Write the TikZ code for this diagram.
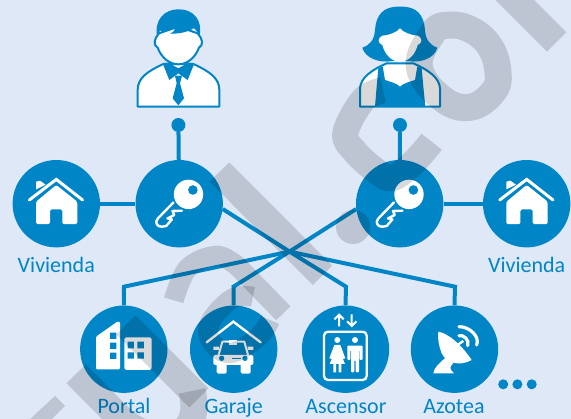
\documentclass[tikz,border=0pt]{standalone}
\usepackage{fontspec}
\setmainfont{Carlito}
\definecolor{bgc}{HTML}{DFE8F7}
\definecolor{azul}{HTML}{0085C7}
\definecolor{wm}{HTML}{D9D9D9}
\tikzset{
  bub/.style={circle,fill=azul,minimum size=87.4pt,inner sep=0pt,draw=none},
  pin/.style={circle,fill=azul,minimum size=14pt,inner sep=0pt,draw=none},
  etq/.style={text=azul,anchor=base,inner sep=0pt,font=\fontsize{22}{22}\selectfont},
  con/.style={draw=azul,line width=4pt,line join=miter},
  w/.style={fill=white,draw=none},
  wl/.style={draw=white,fill=none,line width=2.4pt,line join=round},
  ol/.style={draw=azul,fill=white,line width=2pt,line join=round},
  zz/.style={x=.33333pt,y=-.33333pt},
  wstroke/.style={draw=wm,fill=none,line join=round}
}
\newcommand{\homeIcon}[1]{\begin{scope}[shift={(#1)}]
  \fill[w,rounded corners=1.5pt] (0,-18.7)--(-20.3,-2)--(-20.3,20.5)--(-6.3,20.5)--(-6.3,5.7)--(6,5.7)--(6,20.5)--(21,20.5)--(21,-2)--cycle;
  \fill[w] (-20.3,-14.3)--(-20.3,-22)--(-16.3,-23)--(-10.7,-19)--cycle;
  \draw[draw=white,line width=3pt,line cap=round,line join=miter] (-27,-3.7)--(0,-24.3)--(26.3,-3.7);
\end{scope}}
\newcommand{\keyIcon}[1]{\begin{scope}[shift={(#1)}]
  \fill[w] (9.3,-9.3) circle (14.7);
  \fill[azul] (13.7,-13.7) circle (4.8);
  \draw[wl,line cap=round] (-5.7,-1.3)--(-21.3,14.7) .. controls (-25,18.5) and (-22,23.5) .. (-17.3,23)--(-13,22.3)--(-7.3,15.7)--(-11.7,14.7)--(-5,11.3)--(-6.7,7.3)--(2.7,7);
\end{scope}}
\begin{document}
\begin{tikzpicture}[x=1pt,y=-1pt]
\useasboundingbox (0,0) rectangle (571,419);
\fill[bgc] (0,0) rectangle (571,419);

% nodes
\node[bub] (home1) at (56.3,203.7) {};
\node[bub] (key1) at (179.2,203.7) {};
\node[bub] (key2) at (399.7,203.7) {};
\node[bub] (home2) at (526.7,203.7) {};
\node[bub] (portal) at (123.8,349.2) {};
\node[bub] (garaje) at (233.7,349.2) {};
\node[bub] (asc) at (345.5,349.2) {};
\node[bub] (azo) at (454.5,349.2) {};
\node[pin] (dot1) at (178.4,125) {};
\node[pin] (dot2) at (400,125) {};
\coordinate (cross) at (289.5,251.6);
\coordinate (kP) at (124,286.7);
\coordinate (kG) at (233.5,286.7);
\coordinate (kA) at (346,286.7);
\coordinate (kZ) at (455,286.7);

% connectors
\draw[con] (dot1) -- (key1);
\draw[con] (dot2) -- (key2);
\draw[con] (home1) -- (key1);
\draw[con] (key2) -- (home2);
\draw[con] (key1.-7) -- (cross) -- (kA) -- (asc.north);
\draw[con] (key2.187) -- (cross) -- (kG) -- (garaje.north);
\draw[con] (portal.north) -- (kP) -- (cross) -- (kZ) -- (azo.north);

% labels
\node[etq] (l1) at (56.3,272.7) {Vivienda};
\node[etq] (l2) at (526.7,272.7) {Vivienda};
\node[etq] (l3) at (124,414) {Portal};
\node[etq] (l4) at (233.7,414) {Garaje};
\node[etq] (l5) at (346,414) {Ascensor};
\node[etq] (l6) at (454,414) {Azotea};

% more dots
\node[circle,fill=azul,minimum size=10pt,inner sep=0pt] (m1) at (503.2,384.3) {};
\node[circle,fill=azul,minimum size=10pt,inner sep=0pt] (m2) at (517.4,384.3) {};
\node[circle,fill=azul,minimum size=10pt,inner sep=0pt] (m3) at (531.7,384.3) {};

\homeIcon{56.3,203.7}
\homeIcon{526.7,203.7}
\keyIcon{179.2,203.7}
\keyIcon{399.7,203.7}

% man
\begin{scope}[shift={(120,0)},zz]
  \draw[ol] (53,320)--(53,270) .. controls (53,235) and (80,215) .. (130,192)--(220,192) .. controls (270,215) and (298,235) .. (298,270)--(298,320)--cycle;
  \fill[azul] (128,190)--(148,240)--(175,220)--(203,240)--(223,190)--(205,188)--(175,205)--(145,188)--cycle;
  \fill[azul] (165,227)--(186,227)--(180,250)--(192,295)--(175,316)--(158,295)--(170,250)--cycle;
  \draw[ol] (117,100) .. controls (103,115) and (98,135) .. (113,143) .. controls (125,175) and (150,193) .. (175,193) .. controls (200,193) and (225,175) .. (237,143) .. controls (252,135) and (247,115) .. (233,100)--(175,80)--cycle;
  \fill[azul] (112,112) .. controls (100,60) and (135,27) .. (175,28) .. controls (220,27) and (250,60) .. (238,112) .. controls (232,95) and (228,88) .. (222,84) .. controls (205,95) and (180,102) .. (150,101) .. controls (160,97) and (165,90) .. (166,84) .. controls (150,92) and (135,95) .. (120,92) .. controls (117,96) and (114,103) .. (112,112)--cycle;
\end{scope}

% woman
\begin{scope}[shift={(340,0)},zz]
  \fill[azul] (180,20) .. controls (130,18) and (108,45) .. (105,90) .. controls (103,120) and (90,135) .. (67,143) .. controls (75,175) and (120,190) .. (155,183)--(205,183) .. controls (240,190) and (285,175) .. (292,143) .. controls (270,135) and (257,120) .. (255,90) .. controls (252,45) and (230,18) .. (180,20)--cycle;
  \draw[ol] (60,320)--(60,265) .. controls (62,235) and (90,212) .. (140,190)--(220,190) .. controls (270,212) and (298,235) .. (300,265)--(300,320)--cycle;
  \fill[azul] (115,205)--(128,199)--(135,240) .. controls (150,245) and (170,250) .. (180,260) .. controls (190,250) and (210,245) .. (225,240)--(232,199)--(245,205)--(250,260)--(256,320)--(105,320)--(110,260)--cycle;
  \fill[w] (180,85) .. controls (170,97) and (150,105) .. (127,107) .. controls (113,112) and (112,130) .. (127,135) .. controls (135,165) and (155,185) .. (180,185) .. controls (205,185) and (225,165) .. (233,135) .. controls (248,130) and (247,112) .. (233,107) .. controls (210,105) and (190,97) .. (180,85)--cycle;
\end{scope}

% portal icon
\begin{scope}[shift={(70,295)},zz]
  \fill[w,rounded corners=1.2pt] (78,125)--(78,223)--(150,223)--(150,80)--(142,80)--cycle;
  \fill[w,rounded corners=1.8pt] (163,127)--(245,127)--(245,225)--(163,225)--cycle;
  \fill[azul] (120,113) rectangle (139,132) (120,143) rectangle (139,162) (120,173) rectangle (139,192);
  \fill[azul] (173,140) rectangle (192,160) (202,140) rectangle (222,160) (173,172) rectangle (192,191) (202,172) rectangle (222,191);
\end{scope}

% garage icon
\begin{scope}[shift={(70,295)},zz]
  \draw[draw=white,line width=2.4pt,line cap=round,line join=miter] (410,142)--(490,80)--(572,142);
  \draw[draw=white,line width=2pt,line join=round] (445,183)--(457,140)--(523,140)--(535,183);
  \fill[w] (478,136) rectangle (502,150);
  \fill[w] (430,155) rectangle (447,165) (533,155) rectangle (550,165);
  \fill[w,rounded corners=1.5pt] (430,180)--(550,180)--(550,210)--(430,210)--cycle;
  \fill[w,rounded corners=1.5pt] (440,205) rectangle (470,236);
  \fill[w,rounded corners=1.5pt] (512,205) rectangle (542,236);
  \fill[azul] (455,190) circle (8) (525,190) circle (8);
  \fill[azul] (487,188) rectangle (513,193);
\end{scope}

% lift icon
\begin{scope}[shift={(290,295)},zz]
  \draw[draw=white,fill=none,line width=2.3pt,rounded corners=4pt] (102,110) rectangle (230,255);
  \draw[draw=white,line width=2pt] (147,94)--(147,60) (133,73)--(147,59)--(161,73);
  \draw[draw=white,line width=2pt] (185,58)--(185,92) (171,79)--(185,93)--(199,79);
  \fill[w] (142,135) circle (9) (195,135) circle (9);
  \fill[w] (133,150)--(151,150)--(166,190)--(158,192)--(153,178)--(165,207)--(119,207)--(131,178)--(126,192)--(118,190)--cycle;
  \fill[w] (130,205) rectangle (138,232) (146,205) rectangle (154,232);
  \fill[w,rounded corners=1pt] (172,152)--(218,152)--(218,195)--(209,195)--(209,165)--(207,165)--(207,232)--(197,232)--(197,195)--(193,195)--(193,232)--(183,232)--(183,165)--(181,165)--(181,195)--(172,195)--cycle;
\end{scope}

% dish icon
\begin{scope}[shift={(290,295)},zz]
  \fill[w] (445,110) .. controls (475,115) and (515,150) .. (545,195) .. controls (510,215) and (470,205) .. (455,175) .. controls (447,155) and (442,130) .. (445,110)--cycle;
  \fill[w] (430,235) .. controls (432,218) and (445,208) .. (470,185)--(490,205) .. controls (478,215) and (478,222) .. (492,235)--cycle;
  \draw[draw=white,line width=2.4pt] (495,155)--(520,138);
  \draw[draw=white,line width=3.2pt,line cap=round] (507,122) .. controls (520,118) and (540,135) .. (533,152);
  \draw[draw=white,line width=3.2pt,line cap=round] (507,95) .. controls (540,95) and (570,125) .. (560,150);
\end{scope}

% watermark
\begin{scope}[blend mode=multiply]
  % u
  \draw[wstroke,line width=27pt] (126,325)--(199,398);
  \draw[wstroke,line width=27pt] (76.2,373.8)--(118,416) .. controls (150,448) and (205,445) .. (192,391);
  \fill[wm] (55,396)--(65,406)--(50,421)--(28,421)--cycle;
  % a
  \draw[wstroke,line width=20pt] plot[smooth,tension=.6] coordinates {(173.7,300.3) (188,268) (217,255.7) (238,266.7)} -- (283.3,313.3);
  \draw[wstroke,line width=20pt] plot[smooth,tension=.7] coordinates {(253,296.7) (230,300) (208,330) (227,353) (257,338) (270,320)};
  % l
  \draw[wstroke,line width=27.5pt] (219.5,172)--(322.5,275.3);
  % dot
  \fill[wm] (353,227) circle (17);
  % c
  \draw[wstroke,line width=26pt] plot[smooth,tension=.6] coordinates {(431.7,141.7) (413,163) (391.7,178.3) (375,170) (355,151.7) (345.3,133.3) (363,100) (383,90)};
  % o
  \draw[wstroke,line width=27pt] plot[smooth cycle,tension=.7] coordinates {(446.7,25.3) (470,29.3) (490,46.7) (498,72.7) (493.3,91.7) (470,107.3) (441.7,98.3) (419.3,66.7) (432.7,33.3)};
  % l
  \draw[wstroke,line width=27.5pt] (556.7,42)--(500,-14.7);
\end{scope}
\end{tikzpicture}
\end{document}
